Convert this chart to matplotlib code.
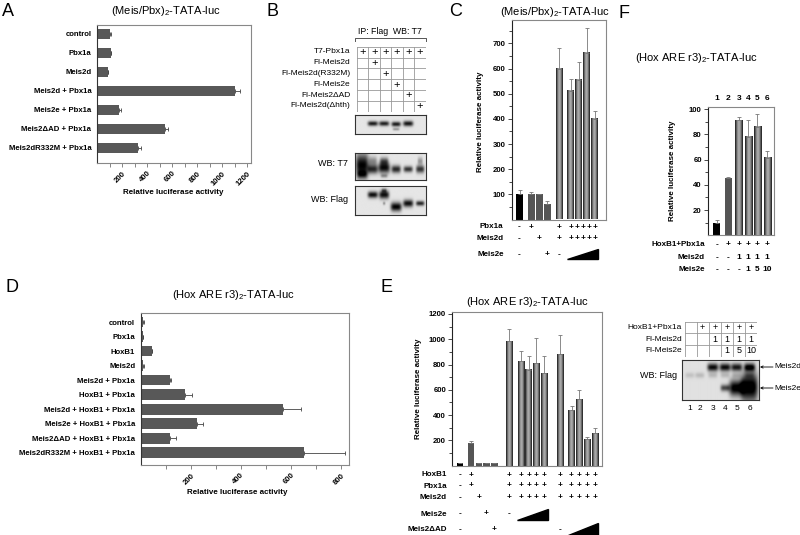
import numpy as np
import matplotlib
matplotlib.use('Agg')
import matplotlib.pyplot as plt
from matplotlib.transforms import blended_transform_factory
from matplotlib.patches import Polygon
from matplotlib.lines import Line2D

plt.rcParams['font.family'] = ['Liberation Sans', 'DejaVu Sans']
plt.rcParams['mathtext.fontset'] = 'custom'
plt.rcParams['mathtext.rm'] = 'Liberation Sans'
plt.rcParams['mathtext.default'] = 'regular'

# ---------------- data ----------------
# A : (Meis/Pbx)2-TATA-luc, horizontal bars
a_labels = ['control', 'Pbx1a', 'Meis2d', 'Meis2d + Pbx1a', 'Meis2e + Pbx1a',
            'Meis2\u0394AD + Pbx1a', 'Meis2dR332M + Pbx1a']
a_vals = [104, 112, 85, 1100, 178, 547, 330]
a_err = [5, 3, 3, 45, 10, 20, 20]

# B : co-IP table
b_rows = ['T7-Pbx1a', 'Fl-Meis2d', 'Fl-Meis2d(R332M)', 'Fl-Meis2e',
          'Fl-Meis2\u0394AD', 'Fl-Meis2d(\u0394hth)']
b_cells = [['+', '+', '+', '+', '+', '+'],
           ['', '+', '', '', '', ''],
           ['', '', '+', '', '', ''],
           ['', '', '', '+', '', ''],
           ['', '', '', '', '+', ''],
           ['', '', '', '', '', '+']]
b_lane_x = [0.1, 0.25, 0.41, 0.58, 0.75, 0.92]
# bands: (lane, y from top, half width, half height, darkness)
b_ip_bands = [(1, 0.45, 0.06, 0.09, 0.8), (2, 0.45, 0.06, 0.09, 0.78),
              (3, 0.48, 0.055, 0.09, 0.8), (3, 0.75, 0.04, 0.05, 0.3),
              (4, 0.45, 0.06, 0.1, 0.82)]
b_t7_bands = [(0, 0.45, 0.075, 0.3, 0.9), (0, 0.8, 0.06, 0.1, 0.5),
              (1, 0.6, 0.06, 0.12, 0.75), (1, 0.3, 0.05, 0.12, 0.35),
              (2, 0.55, 0.07, 0.14, 0.85), (2, 0.3, 0.05, 0.1, 0.5),
              (2, 0.85, 0.04, 0.05, 0.3), (3, 0.6, 0.055, 0.1, 0.75),
              (4, 0.6, 0.055, 0.08, 0.7), (5, 0.6, 0.05, 0.1, 0.7),
              (5, 0.3, 0.03, 0.1, 0.3)]
b_flag_bands = [(1, 0.3, 0.06, 0.08, 0.85), (2, 0.3, 0.06, 0.1, 0.85),
                (2, 0.15, 0.03, 0.05, 0.4), (2, 0.6, 0.015, 0.04, 0.3),
                (3, 0.72, 0.065, 0.11, 0.9), (4, 0.6, 0.06, 0.09, 0.85),
                (5, 0.6, 0.05, 0.06, 0.75)]

# C : (Meis/Pbx)2-TATA-luc, vertical bars
c_pos = [0, 1.45, 2.45, 3.45, 4.95, 6.4, 7.4, 8.4, 9.4]
c_vals = [100, 100, 100, 60, 598, 510, 553, 662, 400]
c_err = [18, 8, 0, 12, 85, 50, 75, 100, 32]
c_kind = ['k', 'g', 'g', 'g', 'c', 'c', 'c', 'c', 'c']
c_row_names = ['Pbx1a', 'Meis2d', 'Meis2e']
c_row_pbx = ['-', '+', '', '', '+', '+', '+', '+', '+', '+']
c_row_meis2d = ['-', '', '+', '', '+', '+', '+', '+', '+', '+']
c_row_meis2e = ['-', '', '', '+', '-', '', '', '', '', '']

# D : (Hox ARE r3)2-TATA-luc, horizontal bars
d_labels = ['control', 'Pbx1a', 'HoxB1', 'Meis2d', 'Meis2d + Pbx1a',
            'HoxB1 + Pbx1a', 'Meis2d + HoxB1 + Pbx1a', 'Meis2e + HoxB1 + Pbx1a',
            'Meis2\u0394AD + HoxB1 + Pbx1a', 'Meis2dR332M + HoxB1 + Pbx1a']
d_vals = [8, 8, 44, 10, 117, 177, 569, 225, 117, 652]
d_err = [4, 0, 3, 3, 4, 27, 72, 25, 23, 163]

# E : (Hox ARE r3)2-TATA-luc, vertical bars
e_pos = [0, 1.4, 2.4, 3.4, 4.4, 6.3, 7.8, 8.8, 9.8, 10.8, 12.8, 14.3, 15.3, 16.3, 17.3]
e_vals = [20, 180, 18, 18, 18, 985, 830, 760, 812, 730, 880, 443, 530, 210, 255]
e_err = [0, 12, 0, 0, 0, 100, 75, 110, 200, 140, 150, 25, 70, 20, 45]
e_kind = ['k', 'g', 'g', 'g', 'g'] + ['c'] * 10
e_row_names = ['HoxB1', 'Pbx1a', 'Meis2d', 'Meis2e', 'Meis2\u0394AD']
e_row_hox = ['-', '+', '', '', ''] + ['+'] * 10
e_row_pbx = ['-', '+', '', '', ''] + ['+'] * 10
e_row_meis2d = ['-', '', '+', '', ''] + ['+'] * 10
e_row_meis2e = ['-', '', '', '+', '', '-'] + [''] * 9
e_row_dad = ['-', '', '', '', '+'] + [''] * 5 + ['-'] + [''] * 4

# F : (Hox ARE r3)2-TATA-luc, titration
f_pos = [0, 1.2, 2.35, 3.3, 4.25, 5.3]
f_vals = [10, 45, 91, 78, 86, 61]
f_err = [2, 1, 3, 13, 10, 6]
f_kind = ['k', 'g', 'c', 'c', 'c', 'c']
f_lanes = ['1', '2', '3', '4', '5', '6']
f_row_names = ['HoxB1+Pbx1a', 'Meis2d', 'Meis2e']
f_row_hp = ['-', '+', '+', '+', '+', '+']
f_row_meis2d = ['-', '-', '1', '1', '1', '1']
f_row_meis2e = ['-', '-', '-', '1', '5', '10']

# F blot
fb_rows = ['HoxB1+Pbx1a', 'Fl-Meis2d', 'Fl-Meis2e']
fb_cells = [['', '+', '+', '+', '+', '+'],
            ['', '', '1', '1', '1', '1'],
            ['', '', '', '1', '5', '10']]
fb_lane_x = [0.10, 0.23, 0.40, 0.56, 0.71, 0.88]
fb_bands = [(2, 0.18, 0.06, 0.07, 0.85), (3, 0.18, 0.06, 0.07, 0.85),
            (4, 0.18, 0.06, 0.07, 0.8), (5, 0.18, 0.06, 0.07, 0.85),
            (0, 0.38, 0.05, 0.05, 0.12), (1, 0.38, 0.05, 0.05, 0.15),
            (2, 0.38, 0.05, 0.05, 0.15), (3, 0.38, 0.05, 0.05, 0.15),
            (4, 0.38, 0.05, 0.05, 0.15), (5, 0.38, 0.05, 0.05, 0.15),
            (3, 0.7, 0.05, 0.06, 0.6), (4, 0.7, 0.08, 0.14, 0.95),
            (5, 0.68, 0.09, 0.25, 1.0)]

# ---------------- helpers ----------------
W, H = 800, 535
fig = plt.figure(figsize=(8, 5.35), dpi=100)


def px_axes(l, t, r, b):
    return fig.add_axes([l / W, 1 - b / H, (r - l) / W, (b - t) / H])


def ftext(x, y, s, **kw):
    kw.setdefault('va', 'center')
    fig.text(x / W, 1 - y / H, s, **kw)


def hbar_panel(ax, labels, vals, err, xmax, height, ylim, major, minor):
    n = len(vals)
    ax.barh(range(n), vals, height=height, color='#585858', zorder=2)
    ax.errorbar(vals, range(n), xerr=[np.zeros(n), err], fmt='none',
                ecolor='#444', elinewidth=0.6, capsize=1.5, capthick=0.6, zorder=3)
    ax.set_xlim(0, xmax)
    ax.set_ylim(*ylim)
    ax.set_yticks(range(n), labels=labels, fontweight='bold', fontsize=5.6)
    ax.tick_params(axis='y', length=0, pad=4)
    ax.set_xticks(major, labels=[str(v) for v in major], fontweight='bold',
                  fontsize=5.6, rotation=45, ha='right', rotation_mode='anchor')
    ax.set_xticks(minor, minor=True)
    ax.tick_params(axis='x', which='both', direction='out', width=0.5, pad=2,
                   colors='#555', labelcolor='black')
    ax.tick_params(axis='x', which='major', length=3)
    ax.tick_params(axis='x', which='minor', length=3)
    for s in ax.spines.values():
        s.set_color('#888')
        s.set_linewidth(0.8)
    ax.spines['left'].set_color('#333')


def vbar_panel(ax, pos, vals, err, kind, xlim, ylim, major, minor, width):
    n = len(vals)
    t = np.linspace(-1, 1, 60)
    grad = 0.12 + 0.55 * (1 - t ** 2) ** 1.5
    for x, v, k in zip(pos, vals, kind):
        if k == 'k':
            ax.bar(x, v, width=width, color='black', zorder=2)
        elif k == 'g':
            ax.bar(x, v, width=width, color='#555', zorder=2)
        else:
            ax.imshow(grad[None, :], extent=[x - width / 2, x + width / 2, 0, v],
                      cmap='gray', vmin=0, vmax=1, aspect='auto', zorder=2)
    ax.errorbar(pos, vals, yerr=[np.zeros(n), err], fmt='none', ecolor='#777',
                elinewidth=0.6, capsize=1.5, capthick=0.6, zorder=3)
    ax.set_xlim(*xlim)
    ax.set_ylim(*ylim)
    ax.set_aspect('auto')
    ax.set_xticks([])
    ax.set_yticks(major, labels=[str(v) for v in major], fontweight='bold', fontsize=5.6)
    ax.set_yticks(minor, minor=True)
    ax.tick_params(axis='y', which='both', direction='out', width=0.5, pad=1.5)
    ax.tick_params(axis='y', which='major', length=3)
    ax.tick_params(axis='y', which='minor', length=2.5)
    for s in ax.spines.values():
        s.set_color('#888')
        s.set_linewidth(0.8)
    ax.spines['left'].set_color('#222')


def sign_row(ax, xs, signs, y, fs=6):
    tr = blended_transform_factory(ax.transData, fig.transFigure)
    for x, s in zip(xs, signs):
        if s:
            ax.text(x, 1 - y / H, s, transform=tr, ha='center', va='center',
                    fontsize=fs, fontweight='bold', clip_on=False)


def wedge(ax, x0, x1, ybot, h):
    tr = blended_transform_factory(ax.transData, fig.transFigure)
    yb = 1 - ybot / H
    yt = 1 - (ybot - h) / H
    ax.add_patch(Polygon([(x0, yb), (x1, yb), (x1, yt)], closed=True,
                         color='black', transform=tr, clip_on=False))


def blot(l, t, r, b, lane_x, bands, base=0.9):
    ax = px_axes(l, t, r, b)
    yy, xx = np.mgrid[0:1:120j, 0:1:240j]
    img = np.full(xx.shape, base)
    for lane, cy, sx, sy, amp in bands:
        cx = lane_x[lane]
        img -= amp * np.exp(-0.5 * ((xx - cx) / sx) ** 4 - 0.5 * ((yy - cy) / sy) ** 2)
    ax.imshow(np.clip(img, 0, 1), cmap='gray', vmin=0, vmax=1,
              extent=[0, 1, 0, 1], aspect='auto', interpolation='bilinear')
    ax.set_xticks([])
    ax.set_yticks([])
    for s in ax.spines.values():
        s.set_linewidth(0.8)
        s.set_color('#333')
    return ax


def grid_table(l, t, r, b, cells, fs=6.5):
    ax = px_axes(l, t, r, b)
    nr, nc = len(cells), len(cells[0])
    ax.set_xlim(0, nc)
    ax.set_ylim(nr, 0)
    for i in range(nr + 1):
        ax.axhline(i, color='#999', lw=0.6)
    for j in range(nc + 1):
        ax.axvline(j, color='#999', lw=0.6)
    for i, row in enumerate(cells):
        for j, s in enumerate(row):
            if s:
                ax.text(j + 0.5, i + 0.5, s, ha='center', va='center', fontsize=fs)
    ax.axis('off')
    return ax


title_meis = '(Meis/Pbx)$_2$-TATA-luc'
title_hox = '(Hox ARE r3)$_2$-TATA-luc'

# ---------------- panel letters ----------------
for letter, x, y in [('A', 8, 11), ('B', 272, 12), ('C', 456, 12),
                     ('F', 624, 14), ('D', 12, 288), ('E', 386, 288)]:
    ftext(x, y, letter, fontsize=13, ha='center')

# ---------------- A ----------------
axA = px_axes(97, 25, 251, 163)
hbar_panel(axA, a_labels, a_vals, a_err, 1230, 0.53, (6.81, -0.47),
           [200, 400, 600, 800, 1000, 1200], [100, 300, 500, 700, 900, 1100])
ftext(166, 11, title_meis, fontsize=8, ha='center')
ftext(173, 193, 'Relative luciferase activity', fontsize=5.8, fontweight='bold', ha='center')

# ---------------- B ----------------
ftext(390, 31, 'IP: Flag  WB: T7', fontsize=6.3, ha='center')
fig.add_artist(Line2D([355 / W, 355 / W, 426 / W, 426 / W],
                      [1 - 41 / H, 1 - 38 / H, 1 - 38 / H, 1 - 41 / H],
                      color='#555', lw=0.7))
grid_table(357, 46.7, 425.7, 111.7, b_cells, fs=8)
for i, name in enumerate(b_rows):
    ftext(350.5, 51.7 + 10.83 * i, name, fontsize=6, ha='right')
blot(355, 115, 426, 134, b_lane_x, b_ip_bands)
blot(355, 153, 426, 180, b_lane_x, b_t7_bands)
blot(355, 186, 426, 215, b_lane_x, b_flag_bands)
ftext(348, 164, 'WB: T7', fontsize=6.5, ha='right')
ftext(348, 200, 'WB: Flag', fontsize=6.5, ha='right')

# ---------------- C ----------------
axC = px_axes(512, 20, 606, 219.5)
vbar_panel(axC, c_pos, c_vals, c_err, c_kind, (-0.94, 10.81), (0, 793),
           [100, 200, 300, 400, 500, 600, 700], [50, 150, 250, 350, 450, 550, 650, 750],
           0.85)
ftext(555, 12, title_meis, fontsize=8, ha='center')
ftext(480, 122, 'Relative luciferase activity', fontsize=5.8, fontweight='bold',
      ha='center', rotation=90)
c_sign_x = c_pos[:5] + list(np.linspace(c_pos[5], c_pos[8], 5))
for y, name, row in zip([227, 238.5, 255], c_row_names,
                        [c_row_pbx, c_row_meis2d, c_row_meis2e]):
    ftext(503.5, y, name, fontsize=5.8, fontweight='bold', ha='right')
    sign_row(axC, c_sign_x, row, y)
wedge(axC, c_pos[5] - 0.45, c_pos[8] + 0.45, 259, 10.5)

# ---------------- D ----------------
axD = px_axes(140.7, 313, 349, 465)
hbar_panel(axD, d_labels, d_vals, d_err, 832, 0.73, (9.84, -0.62),
           [200, 400, 600, 800], [100, 300, 500, 700])
ftext(233, 295, title_hox, fontsize=8, ha='center')
ftext(237, 493, 'Relative luciferase activity', fontsize=5.8, fontweight='bold', ha='center')

# ---------------- E ----------------
axE = px_axes(452.3, 311.7, 601.7, 465.6)
vbar_panel(axE, e_pos, e_vals, e_err, e_kind, (-0.99, 18.17), (0, 1218),
           [200, 400, 600, 800, 1000, 1200], [100, 300, 500, 700, 900, 1100],
           0.82)
ftext(527, 302, title_hox, fontsize=8, ha='center')
ftext(418, 389, 'Relative luciferase activity', fontsize=5.8, fontweight='bold',
      ha='center', rotation=90)
for y, name, row in zip([475, 486, 497.5, 514, 529.5], e_row_names,
                        [e_row_hox, e_row_pbx, e_row_meis2d, e_row_meis2e, e_row_dad]):
    ftext(446.7, y, name, fontsize=5.8, fontweight='bold', ha='right')
    sign_row(axE, e_pos, row, y)
wedge(axE, e_pos[6] - 0.45, e_pos[9] + 0.45, 519.5, 11)
wedge(axE, e_pos[11] - 0.45, e_pos[14] + 0.45, 534.5, 11.5)

# ---------------- F ----------------
axF = px_axes(708, 107, 774, 235.25)
vbar_panel(axF, f_pos, f_vals, f_err, f_kind, (-0.92, 6.03), (0, 101.6),
           [20, 40, 60, 80, 100], [10, 30, 50, 70, 90], 0.75)
ftext(696, 58, title_hox, fontsize=8, ha='center')
ftext(673, 171, 'Relative luciferase activity', fontsize=5.8, fontweight='bold',
      ha='center', rotation=90)
sign_row(axF, f_pos, f_lanes, 98, fs=6)
for y, name, row in zip([245, 257.7, 270], f_row_names,
                        [f_row_hp, f_row_meis2d, f_row_meis2e]):
    ftext(705, y, name, fontsize=5.8, fontweight='bold', ha='right')
    sign_row(axF, f_pos, row, y)

# F blot
grid_table(684.5, 321.7, 757, 356.5, fb_cells, fs=6.5)
for i, name in enumerate(fb_rows):
    ftext(682, 327.5 + 11.6 * i, name, fontsize=6, ha='right')
axFB = blot(682, 360, 759, 400, fb_lane_x, fb_bands, base=0.88)
ftext(677, 375, 'WB: Flag', fontsize=6.5, ha='right')
for lx, lane in zip(fb_lane_x, f_lanes):
    ftext(682 + 77 * lx, 408, lane, fontsize=6, ha='center')
for y, name in [(367, 'Meis2d'), (388, 'Meis2e')]:
    fig.add_artist(plt.Annotation('', xy=(760 / W, 1 - y / H), xytext=(773 / W, 1 - y / H),
                                  xycoords='figure fraction',
                                  arrowprops=dict(arrowstyle='->', lw=0.6, color='black',
                                                  mutation_scale=4, shrinkA=0, shrinkB=0)))
    ftext(774, y, name, fontsize=6, ha='left')

fig.savefig('out.png', dpi=100)
